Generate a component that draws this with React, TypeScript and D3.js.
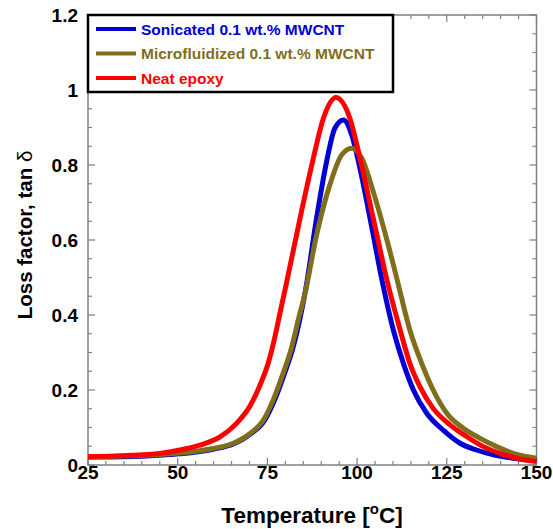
import React, { useEffect, useRef } from "react";
import * as d3 from "d3";

// Temperature (°C) and tan δ
const neatT = [25, 35, 45, 50.6, 56.2, 61.8, 66.4, 70.2, 72.9, 75.3, 77.1, 78.5, 80.2, 84.1, 87.8, 90.6, 94.1, 98.0, 100.8, 104.5, 108.4, 112, 114.7, 117.5, 121.2, 125.9, 130.5, 135.2, 139.8, 144.5, 150];
const neatTan = [0.022, 0.025, 0.031, 0.04, 0.053, 0.075, 0.111, 0.158, 0.212, 0.274, 0.342, 0.405, 0.48, 0.658, 0.818, 0.924, 0.98, 0.924, 0.818, 0.658, 0.49, 0.36, 0.271, 0.209, 0.151, 0.107, 0.076, 0.049, 0.031, 0.018, 0.009];

const sonicT = [25, 35, 45, 50.6, 59.9, 65.5, 70.2, 74.3, 77.0, 79.8, 82.2, 84.0, 85.7, 88.7, 91.5, 93.8, 96.2, 98.5, 100.8, 103.6, 107.0, 110.1, 112.9, 115.7, 119.4, 124.0, 128.7, 133.3, 138, 143.5, 150];
const sonicTan = [0.021, 0.022, 0.026, 0.03, 0.042, 0.056, 0.082, 0.12, 0.173, 0.245, 0.315, 0.387, 0.47, 0.658, 0.809, 0.898, 0.92, 0.88, 0.791, 0.658, 0.49, 0.36, 0.271, 0.2, 0.138, 0.093, 0.058, 0.04, 0.027, 0.018, 0.012];

const microT = [25, 35, 45, 50.6, 59.9, 65.5, 70.2, 73.9, 76.6, 79.4, 81.8, 83.6, 85.5, 88.7, 92.4, 95.7, 98.5, 101.3, 104.5, 108.2, 111.0, 114.7, 118.0, 121.2, 125, 129.6, 134.3, 138.9, 143.5, 150];
const microTan = [0.022, 0.024, 0.028, 0.032, 0.044, 0.058, 0.084, 0.12, 0.173, 0.245, 0.315, 0.387, 0.458, 0.613, 0.747, 0.827, 0.845, 0.818, 0.729, 0.604, 0.5, 0.36, 0.271, 0.2, 0.138, 0.098, 0.071, 0.049, 0.031, 0.018];

const seriesNames = ["Sonicated 0.1 wt.% MWCNT", "Microfluidized 0.1 wt.% MWCNT", "Neat epoxy"];
const seriesColors = ["#0000d2", "#7f6e1c", "#ff0000"];

const xTicks = [25, 50, 75, 100, 125, 150];
const yTicks = [0, 0.2, 0.4, 0.6, 0.8, 1, 1.2];

const W = 553;
const H = 529;
const FONT = "Arial, 'Liberation Sans', sans-serif";

const App = () => {
  const ref = useRef<SVGSVGElement | null>(null);

  useEffect(() => {
    const svg = d3.select(ref.current);
    svg.selectAll("*").remove();

    const x = d3.scaleLinear().domain([25, 150]).range([88, 536.5]);
    const y = d3.scaleLinear().domain([0, 1.2]).range([465, 15]);

    const axisColor = "#808080";
    const [x0, x1] = x.range();
    const [y0, y1] = y.range();

    // frame
    svg
      .append("rect")
      .attr("x", x0)
      .attr("y", y1)
      .attr("width", x1 - x0)
      .attr("height", y0 - y1)
      .attr("fill", "none")
      .attr("stroke", axisColor)
      .attr("stroke-width", 1.5);

    // inward ticks on all sides
    const tickG = svg.append("g").attr("stroke", axisColor).attr("stroke-width", 1.2);
    d3.range(25, 150.01, 5).forEach((v) => {
      const major = v % 25 === 0;
      const len = major ? 7 : 4;
      tickG.append("line").attr("x1", x(v)).attr("x2", x(v)).attr("y1", y0).attr("y2", y0 - len);
      tickG.append("line").attr("x1", x(v)).attr("x2", x(v)).attr("y1", y1).attr("y2", y1 + len);
    });
    d3.range(0, 1.2001, 0.05).forEach((v) => {
      const major = Math.abs(v / 0.2 - Math.round(v / 0.2)) < 1e-6;
      const len = major ? 7 : 4;
      tickG.append("line").attr("y1", y(v)).attr("y2", y(v)).attr("x1", x0).attr("x2", x0 + len);
      tickG.append("line").attr("y1", y(v)).attr("y2", y(v)).attr("x1", x1).attr("x2", x1 - len);
    });

    // tick labels
    svg
      .append("g")
      .selectAll("text")
      .data(xTicks)
      .join("text")
      .attr("x", (d) => x(d))
      .attr("y", 479)
      .attr("text-anchor", "middle")
      .style("font-family", FONT)
      .style("font-weight", "bold")
      .style("font-size", "19px")
      .text((d) => d);

    svg
      .append("g")
      .selectAll("text")
      .data(yTicks)
      .join("text")
      .attr("x", 78)
      .attr("y", (d) => y(d) + 7)
      .attr("text-anchor", "end")
      .style("font-family", FONT)
      .style("font-weight", "bold")
      .style("font-size", "19px")
      .text((d) => String(d));

    // axis titles
    const xt = svg
      .append("text")
      .attr("x", 312)
      .attr("y", 523)
      .attr("text-anchor", "middle")
      .style("font-family", FONT)
      .style("font-weight", "bold")
      .style("font-size", "22.5px");
    xt.append("tspan").text("Temperature [");
    xt.append("tspan").attr("dy", -9).style("font-size", "15px").text("o");
    xt.append("tspan").attr("dy", 9).text("C]");

    const yt = svg
      .append("text")
      .attr("transform", "translate(32,235) rotate(-90)")
      .attr("text-anchor", "middle")
      .style("font-family", FONT)
      .style("font-weight", "bold")
      .style("font-size", "20.5px");
    yt.append("tspan").text("Loss factor, tan ");
    yt.append("tspan").style("font-weight", "normal").text("δ");

    // curves
    const line = d3
      .line<[number, number]>()
      .x((d) => x(d[0]))
      .y((d) => y(d[1]))
      .curve(d3.curveMonotoneX);

    const series: [number, number][][] = [
      d3.zip(sonicT, sonicTan) as [number, number][],
      d3.zip(microT, microTan) as [number, number][],
      d3.zip(neatT, neatTan) as [number, number][],
    ];

    series.forEach((pts, i) => {
      svg
        .append("path")
        .attr("d", line(pts))
        .attr("fill", "none")
        .attr("stroke", seriesColors[i])
        .attr("stroke-width", 5)
        .attr("stroke-linejoin", "round");
    });

    // legend
    const lg = svg.append("g");
    lg.append("rect")
      .attr("x", 88)
      .attr("y", 15)
      .attr("width", 305)
      .attr("height", 77)
      .attr("fill", "white")
      .attr("stroke", "black")
      .attr("stroke-width", 2.5);
    seriesNames.forEach((name, i) => {
      const cy = 29 + i * 24.5;
      lg.append("line")
        .attr("x1", 96)
        .attr("x2", 136)
        .attr("y1", cy)
        .attr("y2", cy)
        .attr("stroke", seriesColors[i])
        .attr("stroke-width", 4);
      lg.append("text")
        .attr("x", 141)
        .attr("y", cy + 5.5)
        .attr("fill", seriesColors[i])
        .style("font-family", FONT)
        .style("font-weight", "bold")
        .style("font-size", "15.5px")
        .text(name);
    });
  }, []);

  return (
    <div style={{ position: "absolute", left: 0, top: 0 }}>
      <svg ref={ref} width={W} height={H} style={{ display: "block", background: "white" }} />
    </div>
  );
};

export default App;
